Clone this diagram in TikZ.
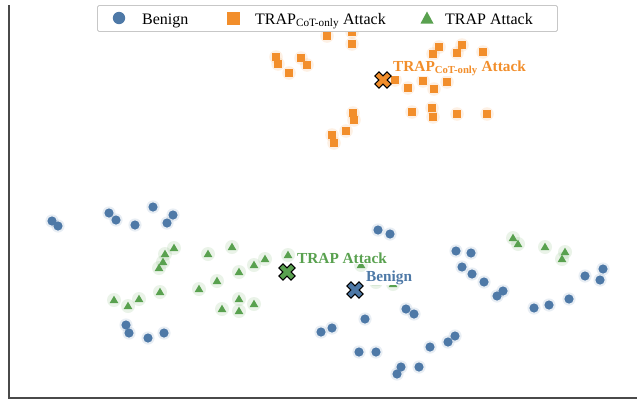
\documentclass[tikz,border=0pt]{standalone}
\usepackage{fontspec}
\setmainfont{Liberation Serif}
\definecolor{cblue}{HTML}{4E79A7}
\definecolor{corange}{HTML}{F28E2B}
\definecolor{cgreen}{HTML}{59A14F}
\definecolor{spine}{HTML}{4A4A4A}

\tikzset{
  spineline/.style={line width=1.5pt, draw=spine},
  legendbox/.style={draw=black!22, line width=0.9pt, fill=white, rounded corners=1.5pt},
  legtext/.style={anchor=base west, inner sep=0pt, font=\fontsize{16}{16}\selectfont},
  lbl/.style={anchor=base west, inner xsep=1.5pt, inner ysep=0.6pt, fill=white,
    font=\fontsize{15.3}{15.3}\selectfont\bfseries},
  halo/.style={fill=#1, fill opacity=0.13},
  centroid/.style={draw=black, line width=1.1pt, line join=miter, fill=#1}
}

% thick cross used for the class centroids
\newcommand\centroidmark[3]{%
  \begin{scope}[shift={(#2)}, rotate=45]
    \draw[centroid=#3] (2.9,8.6) -- (2.9,2.9) -- (8.6,2.9) -- (8.6,-2.9) -- (2.9,-2.9)
      -- (2.9,-8.6) -- (-2.9,-8.6) -- (-2.9,-2.9) -- (-8.6,-2.9) -- (-8.6,2.9)
      -- (-2.9,2.9) -- (-2.9,8.6) -- cycle;
  \end{scope}
  \coordinate (#1) at (#2);
}

\begin{document}
\begin{tikzpicture}[x=1pt, y=-1pt]
\useasboundingbox (0,0) rectangle (637,402);

% axes spines
\draw[spineline] (9,5) -- (9,398) -- (637,398);

% Benign embeddings
\foreach \p in {(52,221),(58,226),(109,213),(116,220),(135,225),(153,207),(173,215),(167,223),
  (126,325),(129,333),(148,338),(164,333),(378,230),(390,234),(456,251),(471,253),(462,267),
  (472,274),(484,282),(503,291),(497,296),(406,309),(414,314),(365,319),(321,332),(332,328),
  (359,352),(376,352),(430,347),(448,342),(455,336),(401,367),(397,374),(419,367),(534,308),
  (549,305),(569,299),(585,276),(603,269),(600,280)}{
  \fill[halo=cblue] \p circle (6.6);
  \fill[cblue] \p circle (4.6);
}

% TRAP attack embeddings
\foreach \x/\y in {174/248,165/254,163/262,159/268,208/254,232/247,239/272,254/265,265/259,
  288/255,217/281,199/289,160/292,114/300,128/306,139/299,222/309,239/299,239/311,254/304,
  513/238,518/244,545/247,565/252,562/259,361/265,376/282,393/284}{
  \fill[halo=cgreen] (\x,\y) circle (7);
  \fill[cgreen] (\x,\y-4.3) -- (\x+4.3,\y+3) -- (\x-4.3,\y+3) -- cycle;
}

% TRAP CoT-only attack embeddings
\foreach \x/\y in {327/36,352/32,352/44,276/57,278/64,301/58,307/65,289/73,353/113,354/120,
  346/131,332/135,334/143,439/47,462/45,433/54,457/53,483/52,395/80,408/88,423/81,434/89,
  447/82,412/112,432/108,433/117,457/114,487/114}{
  \fill[halo=corange] (\x,\y) circle (6.8);
  \fill[corange] (\x-4.3,\y-4.3) rectangle (\x+4.3,\y+4.3);
}

% class centroids
\centroidmark{cot}{383,80}{corange}
\centroidmark{trap}{287,272}{cgreen}
\centroidmark{ben}{355,290}{cblue}

% centroid labels, each on a white backing
\node[lbl, text=corange] (cotlbl) at (391.5,71) {TRAP\textsubscript{CoT-only} Attack};
\node[lbl, text=cgreen] (traplbl) at (295.5,263) {TRAP Attack};
\node[lbl, text=cblue] (benlbl) at (364.5,281) {Benign};

% legend
\node[legendbox, minimum width=460pt, minimum height=26pt, anchor=north west, inner sep=0pt]
  (legend) at (97,5) {};
\fill[cblue] (119,18) circle (6.2);
\node[legtext] (legben) at (142,24) {Benign};
\fill[corange] (226.5,11.5) rectangle (239.5,24.5);
\node[legtext] (legcot) at (255,24) {TRAP\textsubscript{CoT-only} Attack};
\fill[cgreen] (427,11.5) -- (433.5,23.5) -- (420.5,23.5) -- cycle;
\node[legtext] (legtrap) at (445,24) {TRAP Attack};
\end{tikzpicture}
\end{document}
